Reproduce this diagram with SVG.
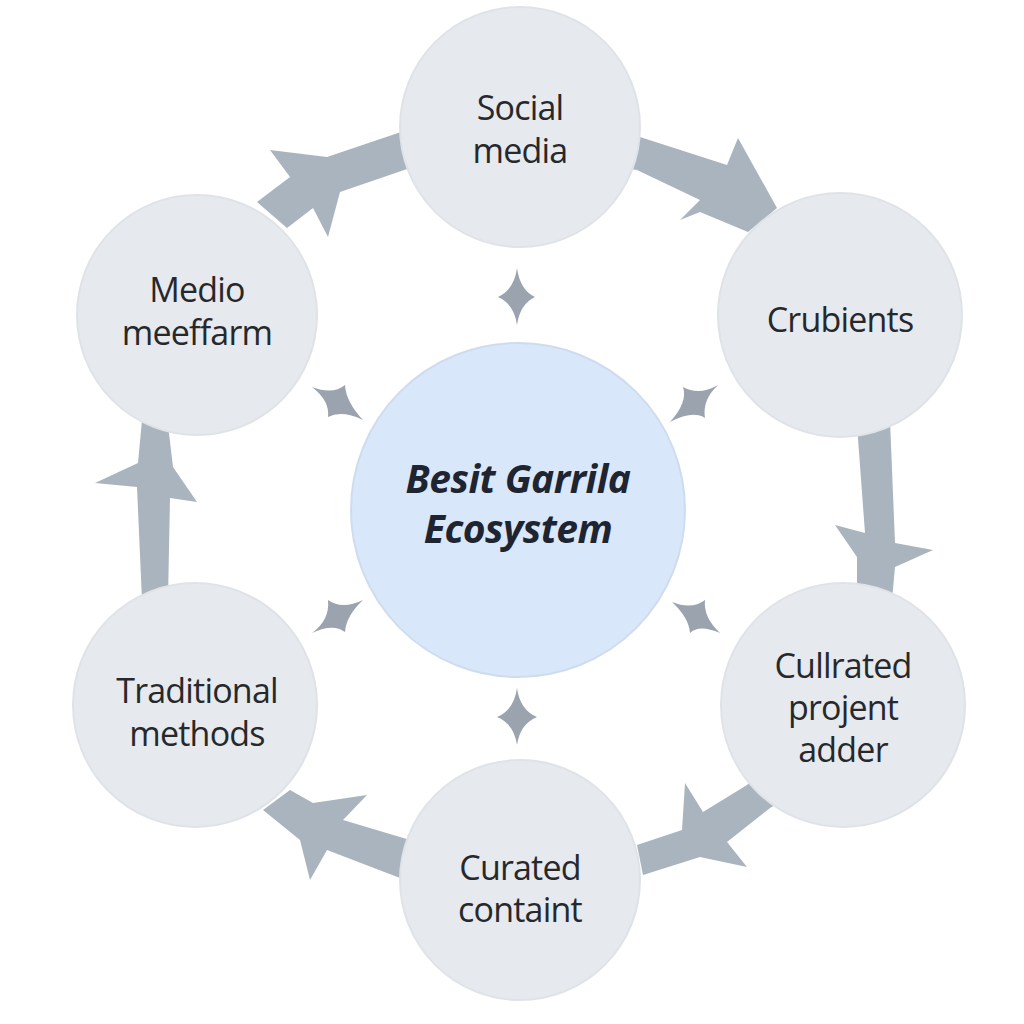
<svg xmlns="http://www.w3.org/2000/svg" width="1024" height="1024" viewBox="0 0 1024 1024">
  <style>
    .band { fill: #aab4be; }
    .star { fill: #9ba4ae; }
    .outer { fill: #e6e9ed; stroke: #dfe3e8; stroke-width: 2; }
    .center { fill: #d8e7f9; stroke: #cfdcee; stroke-width: 2; }
    .lbl { font-family: "Open Sans", "Noto Sans", sans-serif; font-size: 34px; fill: #26282b; text-anchor: middle; letter-spacing: -0.8px; }
    .ctr { font-family: "Open Sans", "Noto Sans", sans-serif; font-size: 39px; font-weight: bold; font-style: italic; fill: #1e2430; text-anchor: middle; letter-spacing: -0.5px; }
  </style>
  <rect width="1024" height="1024" fill="#ffffff"/>

  <g id="connectors">
    <path class="band" d="M410,130 L398,133 L327,157 L270,150 L290,177 L257,202 L287,228 L313,208 L328,237 L340,192 L410,168 Z"/>
    <path class="band" d="M628,136 L640,137 L727,165 L738,138 L777,208 L748,232 L700,212 L680,220 L700,200 L637,170 L625,168 Z"/>
    <path class="band" d="M857,425 L890,420 L895,543 L933,550 L895,567 L892,600 L857,590 L857,557 L835,525 L865,533 Z"/>
    <path class="band" d="M747,785 L758,775 L775,805 L770,808 L727,842 L747,867 L700,857 L643,875 L637,845 L682,830 L685,783 L703,812 Z"/>
    <path class="band" d="M263,810 L290,790 L313,803 L367,795 L343,820 L410,840 L410,880 L400,878 L327,850 L310,880 L300,840 Z"/>
    <path class="band" d="M142,420 L168,425 L173,467 L197,502 L170,498 L168,600 L142,600 L137,487 L95,483 L138,463 Z"/>
  </g>

  <g id="sparkles">
    <path class="star" d="M517,268 Q520,290 535,297 Q520,304 517,325 Q514,304 498,297 Q514,290 517,268 Z"/>
    <path class="star" d="M517,688 Q520,710 537,717 Q520,724 517,745 Q514,724 497,717 Q514,710 517,688 Z"/>
    <path class="star" d="M312,387 Q333,395 345,385 Q346,402 363,420 Q342,410 328,417 Q330,401 312,387 Z"/>
    <path class="star" d="M718,385 Q702,400 705,418 Q693,410 670,422 Q688,402 683,387 Q699,396 718,385 Z"/>
    <path class="star" d="M312,633 Q330,620 328,600 Q342,610 363,600 Q346,616 345,632 Q333,623 312,633 Z"/>
    <path class="star" d="M672,602 Q692,610 705,600 Q703,617 720,633 Q699,624 690,633 Q689,618 672,602 Z"/>
  </g>

  <g id="node-social">
    <circle class="outer" cx="520" cy="127" r="120"/>
    <text class="lbl" x="520" y="120">Social</text>
    <text class="lbl" x="520" y="163">media</text>
  </g>
  <g id="node-crubients">
    <circle class="outer" cx="840" cy="315" r="122"/>
    <text class="lbl" x="840" y="332">Crubients</text>
  </g>
  <g id="node-cullrated">
    <circle class="outer" cx="843" cy="705" r="122"/>
    <text class="lbl" x="843" y="678">Cullrated</text>
    <text class="lbl" x="843" y="720">projent</text>
    <text class="lbl" x="843" y="762">adder</text>
  </g>
  <g id="node-curated">
    <circle class="outer" cx="520" cy="880" r="120"/>
    <text class="lbl" x="520" y="880">Curated</text>
    <text class="lbl" x="520" y="922">containt</text>
  </g>
  <g id="node-traditional">
    <circle class="outer" cx="195" cy="705" r="122"/>
    <text class="lbl" x="197" y="703">Traditional</text>
    <text class="lbl" x="197" y="746">methods</text>
  </g>
  <g id="node-medio">
    <circle class="outer" cx="197" cy="315" r="120"/>
    <text class="lbl" x="197" y="302">Medio</text>
    <text class="lbl" x="197" y="345">meeffarm</text>
  </g>
  <g id="node-center">
    <circle class="center" cx="518" cy="510" r="167"/>
    <text class="ctr" x="518" y="493">Besit Garrila</text>
    <text class="ctr" x="518" y="543">Ecosystem</text>
  </g>
</svg>
